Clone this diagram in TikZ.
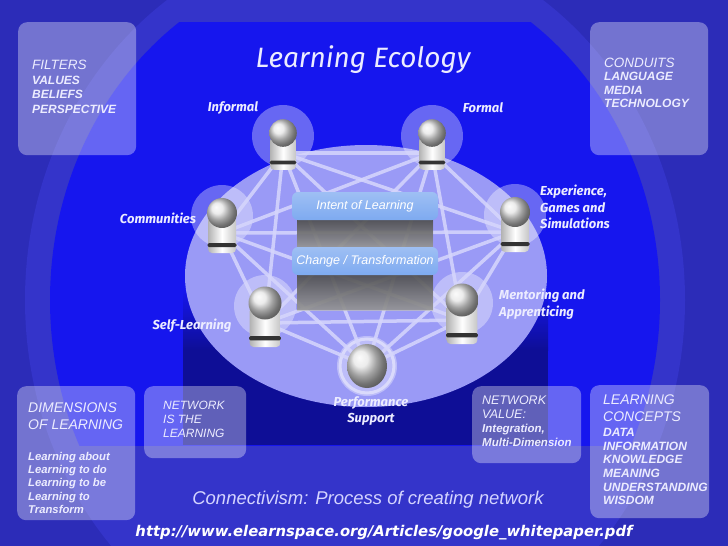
\documentclass[tikz,border=0pt]{standalone}
\usepackage{fontspec}
\setmainfont{Liberation Sans}
\newfontfamily\labelfont{Fira Sans}
\newfontfamily\webfont{DejaVu Sans}
\usetikzlibrary{positioning}

\definecolor{bgblue}{RGB}{44,44,184}
\definecolor{glowblue}{RGB}{52,52,202}
\definecolor{brightblue}{RGB}{22,22,238}
\definecolor{navyblue}{RGB}{14,14,150}
\definecolor{platform}{RGB}{154,154,246}
\definecolor{netline}{RGB}{214,214,252}
\definecolor{intentblue}{RGB}{126,170,240}
\definecolor{paletext}{RGB}{236,236,255}

\newcommand\panelhead[1]{{\mdseries\fontsize{13.5}{14.5}\selectfont #1}}

\tikzset{
  panel/.style={rounded corners=9pt, fill=white, fill opacity=0.34, anchor=north west, inner sep=0pt},
  paneltext/.style={text=paletext, align=left, inner sep=0pt, font=\itshape\bfseries\fontsize{11}{13.5}\selectfont},
  panelhd/.style={text=paletext, align=left, inner sep=0pt, font=\itshape\fontsize{14}{16.5}\selectfont},
  pawnlabel/.style={text=paletext, align=left, inner sep=0pt, font=\labelfont\bfseries\itshape\fontsize{13}{16.5}\selectfont},
  intent/.style={rounded corners=6pt, top color=intentblue!75!white, bottom color=intentblue, minimum width=146pt, minimum height=28pt, text=white, font=\itshape\fontsize{12.5}{14}\selectfont},
  slab/.style={top color=black!60, bottom color=gray!50, opacity=0.72},
  netedge/.style={netline, line width=3.5pt, opacity=0.85},
  halo/.style={fill=white, opacity=0.35},
  pawn/.pic={
    \shade[left color=gray!60, right color=gray!45, middle color=white, rounded corners=4pt]
      (-14,4) rectangle (14,40);
    \fill[black!80, rounded corners=1.5pt] (-14.5,30) rectangle (14.5,34);
    \shade[ball color=white!80!gray] (0,0) circle [radius=15];
  },
}

\begin{document}
\begin{tikzpicture}[x=1pt, y=-1pt]
\useasboundingbox (0,0) rectangle (728,546);

% background
\fill[bgblue] (0,0) rectangle (728,546);
\fill[glowblue] (355,300) ellipse [x radius=330, y radius=365];
\begin{scope}
  \clip (0,22) rectangle (728,445);
  \fill[brightblue] (355,300) ellipse [x radius=305, y radius=340];
\end{scope}
\shade[top color=brightblue, bottom color=navyblue] (183,290) rectangle (548,350);
\fill[navyblue] (183,350) rectangle (548,445);
\fill[platform] (366,276) ellipse [x radius=181, y radius=131];

% where the edges meet the pawns
\foreach \n/\x/\y in {inf/283/153, frm/432/153, com/222/233, exp/515/232, slf/265/323, men/462/320, prf/367/366}
  \coordinate (\n) at (\x,\y);

\foreach \n in {inf,frm,com,exp,slf,men}
  \fill[halo] ([yshift=17pt]\n) circle [radius=31];
\fill[halo] (prf) circle [radius=30];
\draw[white, opacity=0.45, line width=3pt] (prf) circle [radius=27];

\foreach \a [count=\i] in {inf,frm,exp,men,prf,slf,com}
  \foreach \b [count=\j] in {inf,frm,exp,men,prf,slf,com}
    {\ifnum\j>\i \draw[netedge] (\a) -- (\b); \fi}

% the stack in the middle
\fill[slab] (297,220) rectangle (433,247);
\fill[slab] (297,275) rectangle (433,310);
\node[intent] (aim) at (365,206) {Intent of Learning};
\node[intent] (change) at (365,261) {Change / Transformation};

% pawns
\foreach \n/\s in {inf/0.92, frm/0.92, com/1, exp/1, slf/1.1, men/1.1}
  \pic[scale=\s] at ([yshift=20pt]\n) {pawn};
\shade[ball color=white!80!gray] (prf) ellipse [x radius=20, y radius=22];

% labels
\node[font=\labelfont\itshape\fontsize{28}{30}\selectfont, text=paletext] (title) at (363,60) {Learning Ecology};
\node[pawnlabel] (inflbl) at (233,108) {Informal};
\node[pawnlabel] (frmlbl) at (483,108) {Formal};
\node[pawnlabel] (comlbl) at (158,218) {Communities};
\node[pawnlabel, anchor=west] (explbl) at (540,207) {Experience,\\Games and\\Simulations};
\node[pawnlabel] (slflbl) at (192,326) {Self-Learning};
\node[pawnlabel, anchor=west] (menlbl) at (499,304) {Mentoring and\\Apprenticing};
\node[pawnlabel, align=center] (prflbl) at (371,411) {Performance\\Support};

% corner panels
\node[panel, minimum width=118pt, minimum height=133pt] (filters) at (18,22) {};
\node[paneltext, font=\itshape\bfseries\fontsize{12}{14.5}\selectfont, below right=38pt and 14pt of filters.north west] (filterstxt)
  {\panelhead{FILTERS}\\VALUES\\BELIEFS\\PERSPECTIVE};
\node[panel, minimum width=118pt, minimum height=133pt] (conduits) at (590,22) {};
\node[paneltext, font=\itshape\bfseries\fontsize{12}{13.2}\selectfont, below right=36pt and 14pt of conduits.north west] (conduitstxt)
  {\panelhead{CONDUITS}\\LANGUAGE\\MEDIA\\TECHNOLOGY};

\node[panel, minimum width=118pt, minimum height=134pt] (dims) at (17,386) {};
\node[panelhd, below right=17pt and 11pt of dims.north west] (dimshd) {DIMENSIONS\\OF LEARNING};
\node[paneltext, font=\itshape\bfseries\fontsize{11.3}{13.3}\selectfont, below right=66pt and 11pt of dims.north west] (dimstxt)
  {Learning about\\Learning to do\\Learning to be\\Learning to\\Transform};

\node[panel, minimum width=102pt, minimum height=72pt] (isnet) at (144,386) {};
\node[panelhd, font=\itshape\fontsize{12}{14}\selectfont, below right=15pt and 19pt of isnet.north west] (isnettxt)
  {NETWORK\\IS THE\\LEARNING};

\node[panel, minimum width=109pt, minimum height=77pt] (netval) at (472,386) {};
\node[paneltext, font=\itshape\bfseries\fontsize{11.5}{13.7}\selectfont, below right=10pt and 10pt of netval.north west] (netvaltxt)
  {{\mdseries\fontsize{12.5}{14}\selectfont NETWORK}\\{\mdseries\fontsize{12.5}{14}\selectfont VALUE:}\\Integration,\\Multi-Dimension};

\node[panel, minimum width=119pt, minimum height=133pt] (concepts) at (590,385) {};
\node[panelhd, below right=10pt and 13pt of concepts.north west] (conceptshd)
  {LEARNING\\CONCEPTS};
\node[paneltext, font=\itshape\bfseries\fontsize{12}{13.7}\selectfont, below right=43pt and 13pt of concepts.north west] (conceptstxt)
  {DATA\\INFORMATION\\KNOWLEDGE\\MEANING\\UNDERSTANDING\\WISDOM};

% bottom lines
\node[font=\itshape\fontsize{18.5}{20}\selectfont, text=paletext!90!blue] (motto) at (368,500) {Connectivism: Process of creating network};
\node[font=\webfont\bfseries\itshape\fontsize{14.8}{16}\selectfont, text=white] (source) at (384,533) {http://www.elearnspace.org/Articles/google\_whitepaper.pdf};
\end{tikzpicture}
\end{document}
